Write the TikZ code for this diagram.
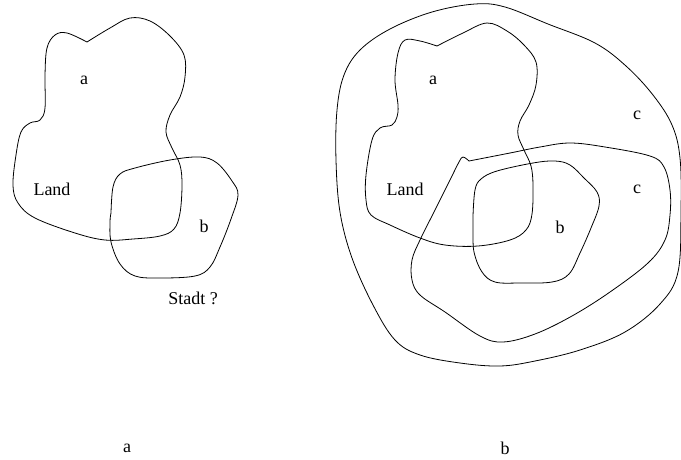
\documentclass[tikz,border=0pt]{standalone}
\usepackage{fontspec}
\setmainfont{Liberation Serif}
\begin{document}
\begin{tikzpicture}[x=1pt,y=-1pt,
  region/.style={line width=0.8pt, line join=round, line cap=round},
  lbl/.style={font=\fontsize{18}{20}\selectfont, inner sep=0pt}]
\useasboundingbox (0,0) rectangle (681,459);

% ---- left figure: land a and town b ----
\draw[region] plot[smooth, tension=0.6] coordinates {
 (87,42) (110,28) (130,18) (150,21) (170,36) (184,55)
 (185,77) (180,97) (170,115) (166,132) (172,148) (180,165)
 (182,185) (180,213) (174,229) (160,236) (133,239) (105,240)
 (75,233) (35,218) (18,203) (13,185) (16,155) (21,132) (30,123) (40,120)
 (45,108) (45,75) (47,48) (55,35) (67,33) (87,42)};
\draw[region] plot[smooth, tension=0.6] coordinates {
 (111,213) (113,187) (120,174) (135,168) (170,160) (200,157)
 (217,163) (232,181) (238,195) (231,219) (220,247) (210,267) (195,276)
 (160,278) (135,276) (120,264) (111,242) (110,222) (111,213)};

\node[lbl] (la) at (84,80) {a};
\node[lbl] (lland) at (52,189) {Land};
\node[lbl] (lb) at (204,226) {b};
\node[lbl] (lstadt) at (193,298) {Stadt ?};
\node[lbl] (capa) at (127,448) {a};

% ---- right figure: a, b and the rings c ----
\draw[region] plot[smooth, tension=0.6] coordinates {
 (437,46) (463,33) (487,23) (507,31) (524,45) (536,62) (536,85)
 (529,105) (520,121) (518,135) (524,150) (531,166) (533,185) (532,214)
 (526,230) (510,240) (478,246) (445,245) (420,238) (390,225)
 (371,215) (366,200) (366,175) (372,140) (380,128) (392,125)
 (397,117) (398,105) (395,80) (398,53) (405,40) (420,41) (437,46)};
\draw[region] plot[smooth, tension=0.6] coordinates {
 (473,216) (475,190) (481,179) (497,171) (533,163) (555,161) (570,165)
 (584,178) (597,192) (599,206) (591,228) (580,253) (569,274) (552,282)
 (520,283) (495,282) (482,272) (474,252) (473,230) (473,216)};
\draw[region] plot[smooth, tension=0.6] coordinates {
 (469,161) (510,153) (540,147) (570,143) (605,147) (650,156) (664,167)
 (670,190) (670,215) (665,240) (648,263) (610,292) (572,316)
 (535,334) (503,342) (480,336) (445,312) (420,295) (412,280)
 (412,260) (420,240) (435,210) (450,180) (459,162) (463,157) (469,161)};
\draw[region] plot[smooth cycle, tension=0.6] coordinates {
 (475,4) (505,7) (548,24) (595,43) (626,66) (653,95) (672,125) (680,158)
 (681,210) (678,272) (660,304) (625,332) (580,350) (535,361) (500,366)
 (460,363) (420,355) (395,340) (373,305) (352,258) (340,212)
 (336,160) (337,110) (344,75) (360,50) (390,29) (432,12)};

\node[lbl] (ra) at (433,80) {a};
\node[lbl] (rland) at (405,189) {Land};
\node[lbl] (rb) at (560,227) {b};
\node[lbl] (rc1) at (637,115) {c};
\node[lbl] (rc2) at (637,189) {c};
\node[lbl] (capb) at (505,448) {b};
\end{tikzpicture}
\end{document}
